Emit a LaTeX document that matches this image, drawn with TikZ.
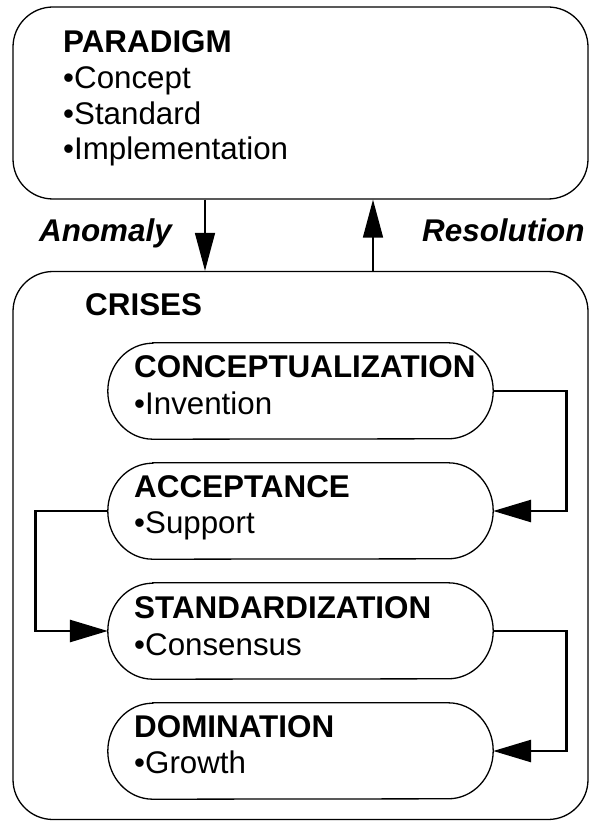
\documentclass[tikz,border=0pt]{standalone}
\usepackage{fontspec}
\setmainfont{Liberation Sans}
\usetikzlibrary{arrows.meta,calc}
\tikzset{
  bigbox/.style={draw=black,line width=1.3pt,rounded corners=40pt},
  phase/.style={minimum width=385pt,minimum height=96pt,inner sep=0pt},
  capline/.style={draw=black,line width=1.3pt},
  txt/.style={anchor=base west,inner sep=0pt,font=\fontsize{31.3}{37}\selectfont},
  btxt/.style={txt,font=\fontsize{31.4}{37}\selectfont\bfseries},
  lbl/.style={txt,font=\fontsize{31.4}{37}\selectfont\bfseries\itshape},
  conn/.style={draw=black,line width=2.8pt,-{Triangle[length=38pt,width=22pt]}},
  vconn/.style={draw=black,line width=1.6pt,-{Triangle[length=38pt,width=20pt]}},
}
\begin{document}
\begin{tikzpicture}[x=1pt,y=-1pt]
\useasboundingbox (0,0) rectangle (590,821);
% outer boxes
\node[bigbox,minimum width=575pt,minimum height=192pt,inner sep=0pt] (par) at (300.5,103) {};
\node[bigbox,minimum width=575pt,minimum height=548pt,inner sep=0pt] (cri) at (300.5,545.5) {};
% texts in paradigm
\node[btxt] (parT) at (63,53) {PARADIGM};
\node[txt] (par1) at (63,89) {•Concept};
\node[txt] (par2) at (63,124.5) {•Standard};
\node[txt] (par3) at (63,160) {•Implementation};
\node[btxt] (criT) at (85,315) {CRISES};
% phase nodes
\foreach \n/\y in {c1/391,c2/511,c3/631,c4/751}{
  \node[phase] (\n) at (300.5,\y) {};
  \draw[capline] ($(\n.north west)+(45,0)$) -- ($(\n.north east)+(-45,0)$)
     arc[start angle=-90,end angle=90,x radius=45,y radius=48]
     -- ($(\n.south west)+(45,0)$)
     arc[start angle=90,end angle=270,x radius=45,y radius=48] -- cycle;
}
\node[btxt] (c1T) at (134,377) {CONCEPTUALIZATION};
\node[txt] (c1B) at (134,414) {•Invention};
\node[btxt] (c2T) at (134,497) {ACCEPTANCE};
\node[txt] (c2B) at (134,533) {•Support};
\node[btxt] (c3T) at (134,618) {STANDARDIZATION};
\node[txt] (c3B) at (134,655) {•Consensus};
\node[btxt] (c4T) at (134,737) {DOMINATION};
\node[txt] (c4B) at (134,773) {•Growth};
% vertical arrows
\coordinate (ax) at (205,0);
\coordinate (rx) at (373,0);
\draw[vconn] (ax |- par.south) -- (ax |- cri.north);
\draw[vconn] (rx |- cri.north) -- (rx |- par.south);
\node[lbl] (anom) at (39,241) {Anomaly};
\node[lbl] (reso) at (422,241) {Resolution};
% connectors
\draw[conn] (c1.east) -- ++(73,0) |- (c2.east);
\draw[conn] (c2.west) -- ++(-72,0) |- (c3.west);
\draw[conn] (c3.east) -- ++(73,0) |- (c4.east);
\end{tikzpicture}
\end{document}
